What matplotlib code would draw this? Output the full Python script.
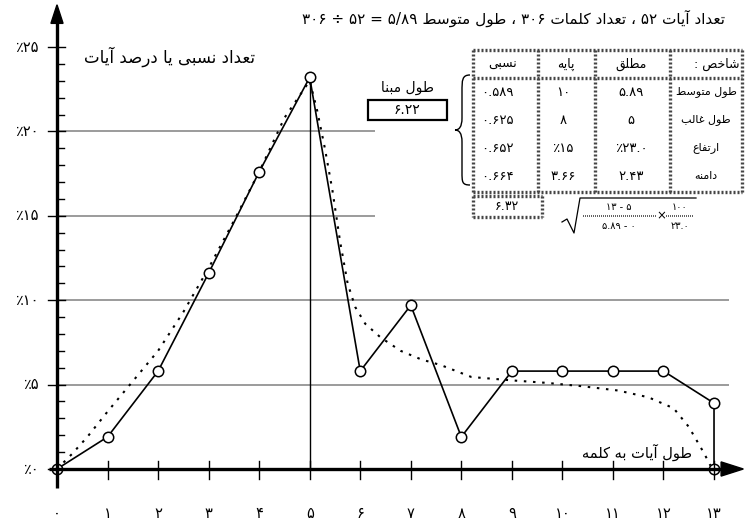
import re
import matplotlib
matplotlib.use("Agg")
import matplotlib.pyplot as plt
from matplotlib.path import Path
from matplotlib.patches import PathPatch, Polygon, Rectangle

plt.rcParams['font.family'] = ['DejaVu Sans']

# ---- data ----
verse_len = [0, 1, 2, 3, 4, 5, 6, 7, 8, 9, 10, 11, 12, 13, 13]
verse_pct = [0, 1.9, 5.8, 11.6, 17.6, 23.2, 5.8, 9.7, 1.9, 5.8, 5.8, 5.8, 5.8, 3.9, 0]

fit_x = [0, 0.3, 0.6, 1.0, 1.5, 2.0, 2.5, 3.0, 3.5, 4.0, 4.5, 5.0, 5.15, 5.3, 5.45,
         5.6, 5.75, 5.9, 6.1, 6.4, 6.8, 7.2, 7.6, 8.2, 9.0, 9.7, 10.4, 11.1, 11.7,
         12.2, 12.5, 12.8, 12.93]
fit_y = [0, 0.9, 1.9, 3.4, 5.2, 7.0, 9.3, 11.9, 14.7, 17.6, 20.8, 23.0, 21.2, 19.0, 16.5,
         13.5, 11.0, 9.6, 8.6, 7.8, 7.0, 6.5, 6.15, 5.45, 5.25, 5.1, 4.9, 4.65, 4.25,
         3.6, 2.5, 0.95, 0.2]

stats_rows = ['طول متوسط', 'طول غالب', 'ارتفاع', 'دامنه']
stats_abs = ['۵.۸۹', '۵', '٪۲۳.۰', '۲.۴۳']
stats_base = ['۱۰', '۸', '٪۱۵', '۳.۶۶']
stats_rel = ['۰.۵۸۹', '۰.۶۲۵', '۰.۶۵۲', '۰.۶۶۴']
base_len = '۶.۲۲'
index_val = '۶.۳۲'

title = 'تعداد آیات ۵۲ ، تعداد کلمات ۳۰۶ ، طول متوسط ۵/۸۹ = ۵۲ ÷ ۳۰۶'
y_title = 'تعداد نسبی یا درصد آیات'
x_title = 'طول آیات به کلمه'

# ---- simple persian shaping (matplotlib has no bidi) ----
DUAL = {'ب': 0xFE8F, 'ت': 0xFE95, 'ث': 0xFE99, 'ج': 0xFE9D, 'ح': 0xFEA1, 'خ': 0xFEA5,
        'س': 0xFEB1, 'ش': 0xFEB5, 'ص': 0xFEB9, 'ض': 0xFEBD, 'ط': 0xFEC1, 'ظ': 0xFEC5,
        'ع': 0xFEC9, 'غ': 0xFECD, 'ف': 0xFED1, 'ق': 0xFED5, 'ل': 0xFEDD, 'م': 0xFEE1,
        'ن': 0xFEE5, 'ه': 0xFEE9, 'ی': 0xFBFC, 'ک': 0xFB8E, 'گ': 0xFB92, 'پ': 0xFB56,
        'چ': 0xFB7A}
RIGHT = {'ا': 0xFE8D, 'آ': 0xFE81, 'د': 0xFEA9, 'ذ': 0xFEAB, 'ر': 0xFEAD, 'ز': 0xFEAF,
         'و': 0xFEED, 'ژ': 0xFB8A}
FA = '۰۱۲۳۴۵۶۷۸۹'


def shape(s):
    out = []
    for i, c in enumerate(s):
        if c not in DUAL and c not in RIGHT:
            out.append(c)
            continue
        prev = s[i - 1] if i > 0 else ''
        nxt = s[i + 1] if i + 1 < len(s) else ''
        jp = prev in DUAL
        jn = c in DUAL and (nxt in DUAL or nxt in RIGHT)
        base = DUAL.get(c, RIGHT.get(c))
        form = 3 if (jp and jn) else 1 if jp else 2 if jn else 0
        out.append(chr(base + form))
    return ''.join(out)


def rtl(s):
    s = shape(s)
    parts = re.findall(r'[۰-۹0-9./٪]+|[^۰-۹0-9./٪]+', s)
    return ''.join(p if re.match(r'[۰-۹0-9./٪]', p) else p[::-1] for p in reversed(parts))


def fa_num(n):
    return ''.join(FA[int(c)] if c.isdigit() else c for c in str(n))


# ---- figure: data axes + pixel overlay ----
W, H = 745, 527
X0, Y0, SX, SY = 57, 469, 50.54, 16.88
fig = plt.figure(figsize=(W / 100, H / 100), dpi=100)
ax = fig.add_axes([0, 0, 1, 1])
ax.set_xlim(-X0 / SX, (W - X0) / SX)
ax.set_ylim(-(H - Y0) / SY, Y0 / SY)
ax.axis('off')

ov = fig.add_axes([0, 0, 1, 1], zorder=3)
ov.set_xlim(0, W)
ov.set_ylim(H, 0)
ov.axis('off')
ov.patch.set_alpha(0)

# grid lines
ax.hlines([5, 10], 0, 13.3, color='#8a8a8a', lw=1.2, zorder=1)
ax.hlines([15, 20], 0, 6.3, color='#8a8a8a', lw=1.2, zorder=1)

# fitted curve and data
ax.plot(fit_x, fit_y, color='k', lw=1.5, ls=(0, (1.2, 3.2)), zorder=2)
ax.plot([5, 5], [0, verse_pct[5]], color='k', lw=1.0, zorder=2)
ax.plot(verse_len, verse_pct, color='k', lw=1.2, marker='o', ms=7.5, mfc='white',
        mec='k', mew=1.1, zorder=3)

# axes with arrows
ax.plot([-0.15, 13.2], [0, 0], color='k', lw=2.4, zorder=4, solid_capstyle='butt')
ax.add_patch(Polygon([(13.14, 0.42), (13.58, 0), (13.14, -0.42)], closed=True,
                     color='k', zorder=4))
ax.plot([0, 0], [-1.15, 26.6], color='k', lw=2.4, zorder=4, solid_capstyle='butt')
ax.add_patch(Polygon([(-0.12, 26.4), (0, 27.5), (0.12, 26.4)], closed=True,
                     color='k', zorder=4))
for v in range(0, 26):
    if v % 5 == 0:
        ax.plot([-0.18, 0.16], [v, v], color='k', lw=1.0, zorder=4)
        ax.text(-0.36, v, '٪' + fa_num(v), ha='right', va='center', fontsize=10.5)
    else:
        ax.plot([0, 0.13], [v, v], color='k', lw=1.0, zorder=4)
for i in range(0, 14):
    if i > 0:
        ax.plot([i, i], [-0.6, 0.45], color='k', lw=1.0, zorder=4)
    ax.text(i, -2.9, fa_num(i), ha='center', va='baseline', fontsize=10.5)

# titles
ov.text(725, 18, rtl(title), ha='right', va='center', fontsize=11)
ov.text(255, 57, rtl(y_title), ha='right', va='center', fontsize=12)
ov.text(692, 452, rtl(x_title), ha='right', va='center', fontsize=10.5)

# base length box
ov.text(407, 88, rtl('طول مبنا'), ha='center', va='center', fontsize=10)
ov.add_patch(Rectangle((368, 100), 79, 20, fill=False, ec='k', lw=1.6))
ov.text(407, 110, base_len, ha='center', va='center', fontsize=10)

# brace
brace = Path([(470, 75), (462, 75), (462, 80), (462, 92), (462, 118), (462, 127),
              (459, 130), (455, 130), (459, 130), (462, 133), (462, 142),
              (462, 172), (462, 182), (462, 185), (470, 185)],
             [Path.MOVETO, Path.CURVE4, Path.CURVE4, Path.CURVE4, Path.LINETO,
              Path.CURVE4, Path.CURVE4, Path.CURVE4, Path.CURVE4, Path.CURVE4,
              Path.CURVE4, Path.LINETO, Path.CURVE4, Path.CURVE4, Path.CURVE4])
ov.add_patch(PathPatch(brace, fill=False, lw=1.0, ec='k'))

# stats table
bstyle = dict(color='#444444', lw=2.4, ls=(0, (0.6, 0.6)))
tl, tr, tt, tb = 473, 742, 50, 192
for yy in (tt, 78, tb):
    ov.plot([tl, tr], [yy, yy], **bstyle)
for xx in (tl, 538, 595, 670, tr):
    ov.plot([xx, xx], [tt, tb], **bstyle)
col_c = [503, 566, 631]
heads = ['نسبی', 'پایه', 'مطلق']
for c, h in zip(col_c, heads):
    ov.text(c, 64, rtl(h), ha='center', va='center', fontsize=9)
ov.text(739, 64, rtl('شاخص :'), ha='right', va='center', fontsize=9)
row_y = [92, 120, 148, 176]
for k, yy in enumerate(row_y):
    ov.text(706, yy, rtl(stats_rows[k]), ha='center', va='center', fontsize=8)
    ov.text(631, yy, stats_abs[k], ha='center', va='center', fontsize=9.5)
    ov.text(563, yy, stats_base[k], ha='center', va='center', fontsize=9.5)
    ov.text(497, yy, stats_rel[k], ha='center', va='center', fontsize=9.5)

# index box and formula
for yy in (196, 217):
    ov.plot([473, 542], [yy, yy], **bstyle)
for xx in (473, 542):
    ov.plot([xx, xx], [196, 217], **bstyle)
ov.text(507, 206, index_val, ha='center', va='center', fontsize=9)
ov.plot([562, 567, 574, 580, 696], [222, 219, 233, 198, 198], color='k', lw=0.9)
ov.plot([583, 656], [216, 216], color='#444444', lw=1.2, ls=(0, (0.6, 0.6)))
ov.plot([666, 694], [216, 216], color='#444444', lw=1.2, ls=(0, (0.6, 0.6)))
ov.text(619, 207, '۱۳ - ۵', ha='center', va='center', fontsize=7)
ov.text(619, 226, '۵.۸۹ - ۰', ha='center', va='center', fontsize=7)
ov.text(661, 216, '×', ha='center', va='center', fontsize=8.5)
ov.text(680, 207, '۱۰۰', ha='center', va='center', fontsize=7)
ov.text(680, 226, '۲۳.۰', ha='center', va='center', fontsize=7)

fig.savefig('out.png', dpi=100)
